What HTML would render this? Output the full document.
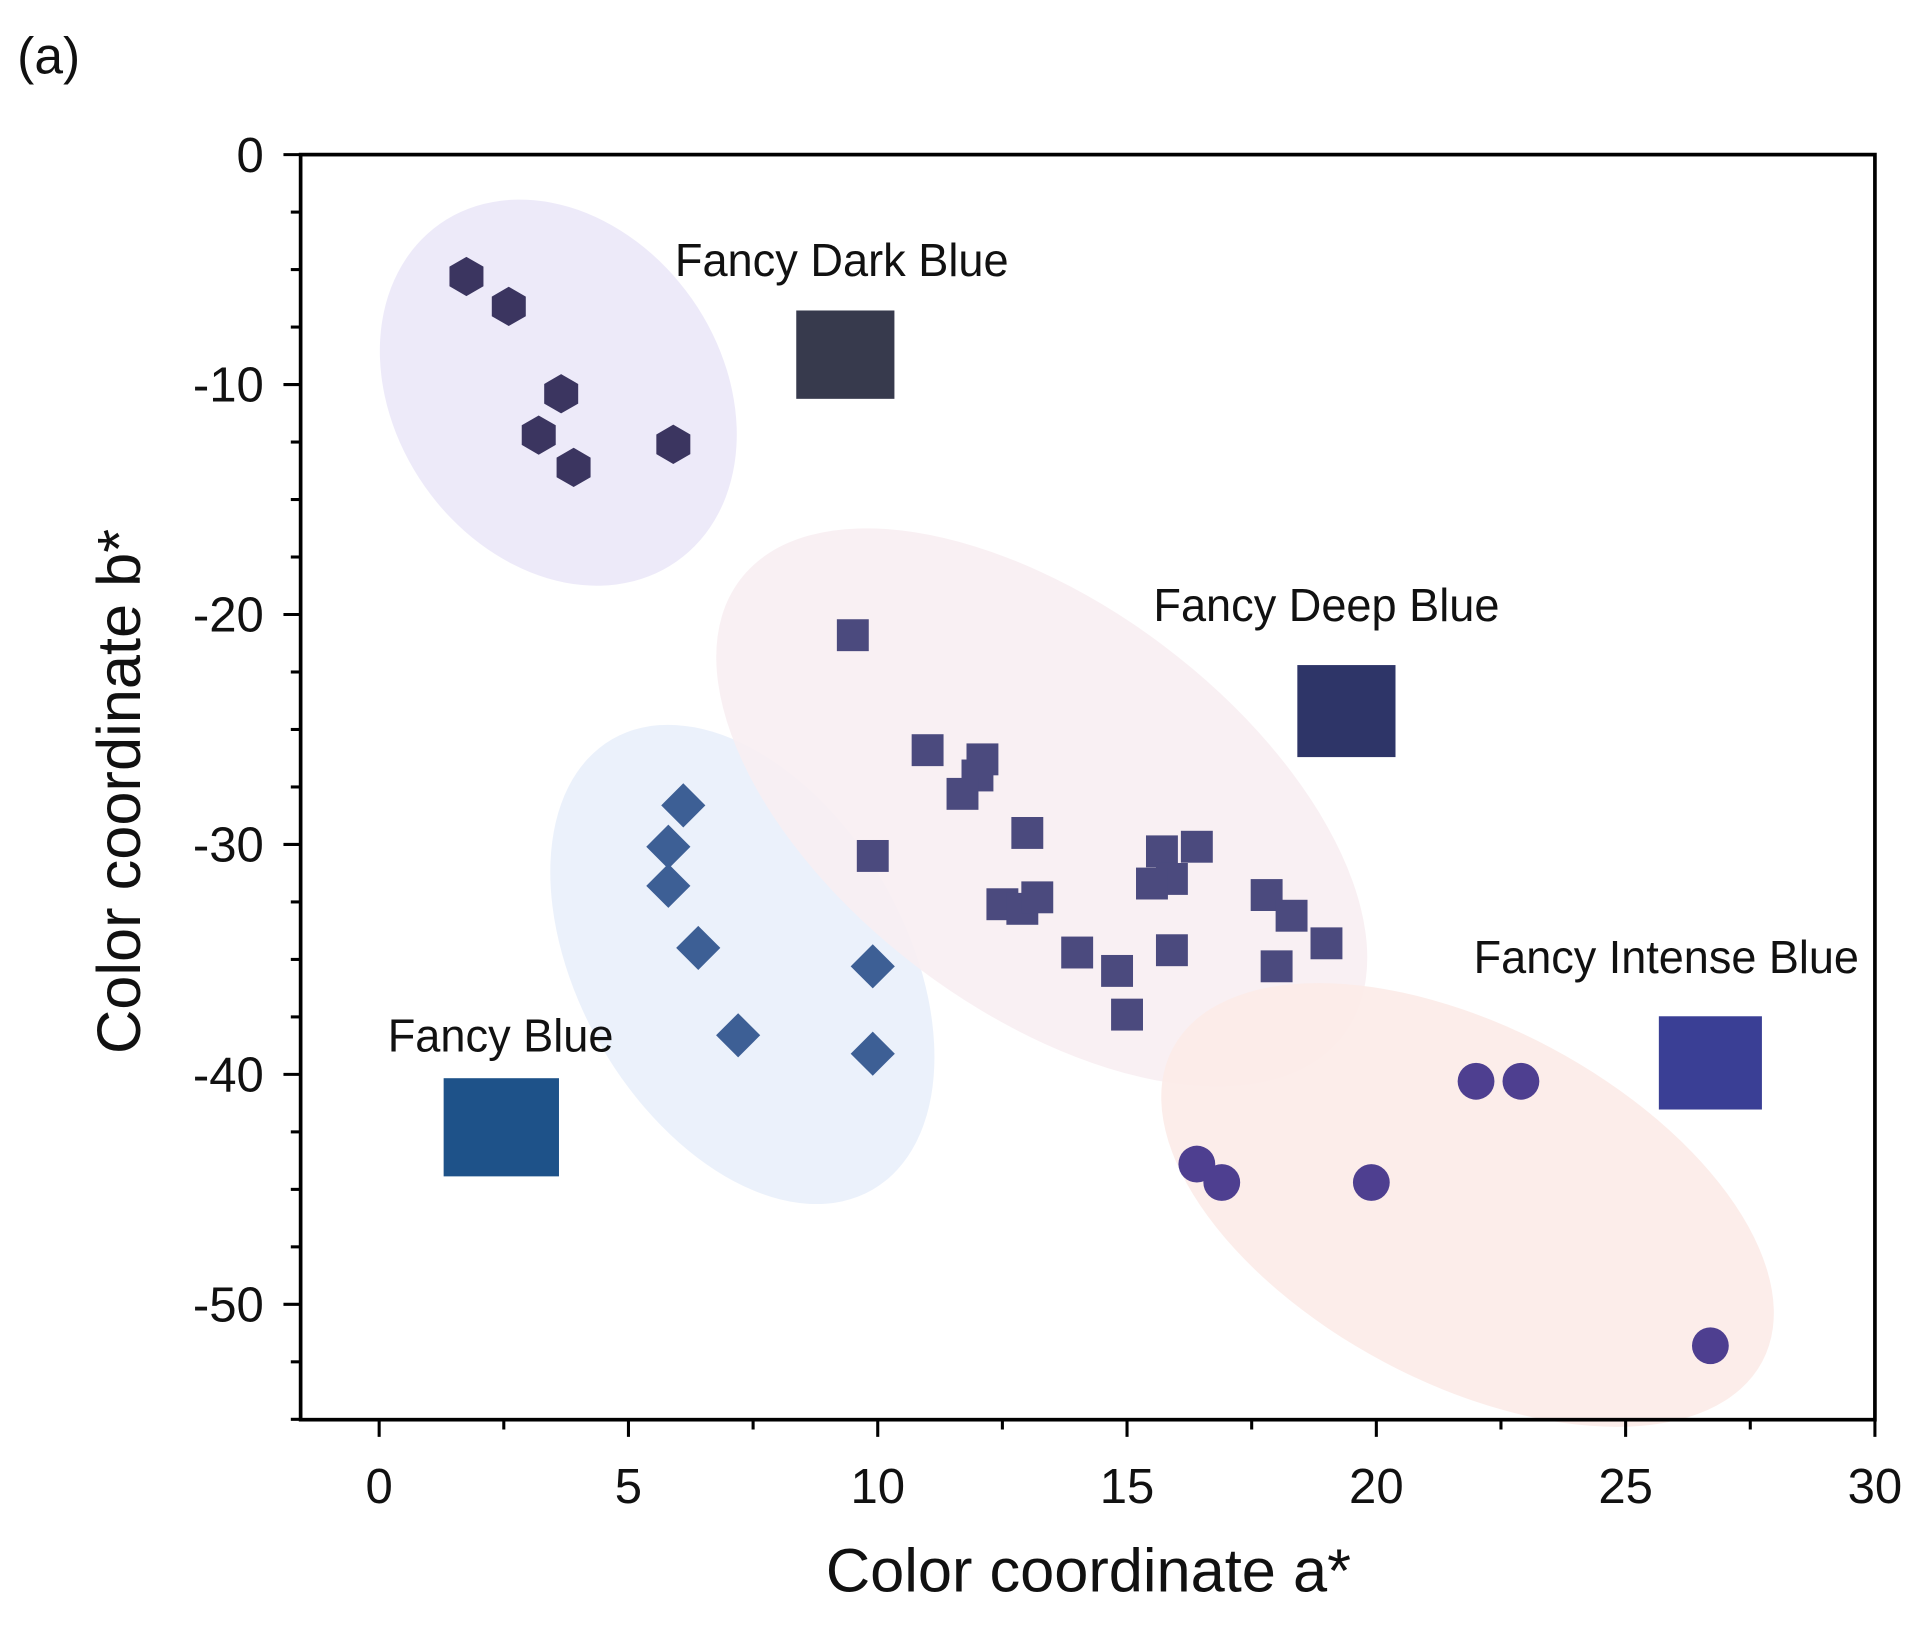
<!DOCTYPE html>
<html><head><meta charset="utf-8"><style>html,body{margin:0;padding:0;background:#fff}svg{display:block}text{font-family:"Liberation Sans",sans-serif;fill:#111}</style></head>
<body>
<svg id="chart" width="1924" height="1630" viewBox="0 0 1568 1328.4" xmlns="http://www.w3.org/2000/svg">
<text x="14" y="60" font-size="42">(a)</text>
<g id="ellipses"></g>
<g id="marks"></g>
<g id="axes"></g>
</svg>
<script>
const xTicks=[0,5,10,15,20,25,30];
const yTicks=[0,-10,-20,-30,-40,-50];
const hexX=[1.75,2.6,3.65,3.2,3.9,5.9];
const hexY=[-5.3,-6.6,-10.4,-12.2,-13.6,-12.6];
const sqX=[9.5,11,12.1,12,11.7,13,9.9,15.7,16.4,15.9,15.5,12.5,12.9,13.2,17.8,18.3,19,14,15.9,14.8,18,15];
const sqY=[-20.9,-25.9,-26.3,-27,-27.8,-29.5,-30.5,-30.3,-30.1,-31.5,-31.7,-32.6,-32.8,-32.3,-32.2,-33.1,-34.3,-34.7,-34.6,-35.5,-35.3,-37.4];
const diaX=[6.1,5.8,5.8,6.4,9.9,7.2,9.9];
const diaY=[-28.3,-30.1,-31.8,-34.5,-35.3,-38.3,-39.1];
const cirX=[22,22.9,16.4,16.9,19.9,26.7];
const cirY=[-40.3,-40.3,-43.9,-44.7,-44.7,-51.8];
const refNames=["Fancy Dark Blue","Fancy Deep Blue","Fancy Intense Blue","Fancy Blue"];
const refX=[9.35,19.4,26.7,2.45];
const refY=[-8.7,-24.2,-39.5,-42.3];

const L=245,R=1528,T=126,B=1157;
const sx=v=>309+v*(1528-309)/30;
const sy=v=>126-v*(1063-126)/50;
const NS="http://www.w3.org/2000/svg";
function mk(tag,attrs,parent){const e=document.createElementNS(NS,tag);for(const k in attrs)e.setAttribute(k,attrs[k]);parent.appendChild(e);return e;}
const eg=document.getElementById('ellipses'),mg=document.getElementById('marks'),ag=document.getElementById('axes');

const ells=[[455,320,168,133,55,'#ebe8f8','ellipse-dark-blue'],[605,786,212,133,60,'#e9f0fb','ellipse-blue'],[849,658,308,165,37,'#f8eef2','ellipse-deep-blue'],[1196,982,272,145,28,'#fcebe8','ellipse-intense-blue']];
ells.forEach(e=>{const el=mk('ellipse',{cx:e[0],cy:e[1],rx:e[2],ry:e[3],transform:`rotate(${e[4]} ${e[0]} ${e[1]})`,fill:e[5],'fill-opacity':0.9},eg);

});

hexX.forEach((x,i)=>{const cx=sx(x),cy=sy(hexY[i]),r=16;let p=[];for(let k=0;k<6;k++){const a=Math.PI/3*k+Math.PI/6;p.push((cx+r*Math.cos(a)).toFixed(1)+','+(cy+r*Math.sin(a)).toFixed(1));}
const el=mk('polygon',{points:p.join(' '),fill:'#3b3560'},mg);

});
sqX.forEach((x,i)=>{const el=mk('rect',{x:sx(x)-13,y:sy(sqY[i])-13,width:26,height:26,fill:'#4b4a7e'},mg);

});
diaX.forEach((x,i)=>{const cx=sx(x),cy=sy(diaY[i]),r=18;const el=mk('polygon',{points:`${cx},${cy-r} ${cx+r},${cy} ${cx},${cy+r} ${cx-r},${cy}`,fill:'#3d5f95'},mg);

});
cirX.forEach((x,i)=>{const el=mk('circle',{cx:sx(x),cy:sy(cirY[i]),r:15,fill:'#4e3f90'},mg);

});

const refCol=['#373a4d','#2e3568','#3a3f95','#1e5289'];
const refSz=[[80,72],[80,75],[84,76],[94,80]];
const lab=[[550,225,272],[940,506,282],[1201,793,314],[316,857,184]];
refX.forEach((x,i)=>{const w=refSz[i][0],h=refSz[i][1];
const el=mk('rect',{x:sx(x)-w/2,y:sy(refY[i])-h/2,width:w,height:h,fill:refCol[i]},mg);


const t=mk('text',{x:lab[i][0],y:lab[i][1],'font-size':38,textLength:lab[i][2],lengthAdjust:'spacingAndGlyphs'},mg);t.textContent=refNames[i];

});

const box=mk('rect',{x:L,y:T,width:R-L,height:B-T,fill:'none',stroke:'#000','stroke-width':3},ag);


for(let v=0;v>=-55;v-=2.5){const y=sy(v),maj=v%10===0;mk('line',{x1:L-(maj?14:8),x2:L,y1:y,y2:y,stroke:'#000','stroke-width':2.5},ag);}
yTicks.forEach(v=>{const t=mk('text',{x:L-30,y:sy(v)+14,'font-size':40,'text-anchor':'end'},ag);t.textContent=v;

});
for(let v=0;v<=30;v+=2.5){const x=sx(v),maj=v%5===0;mk('line',{x1:x,x2:x,y1:B,y2:B+(maj?14:8),stroke:'#000','stroke-width':2.5},ag);}
xTicks.forEach(v=>{const t=mk('text',{x:sx(v),y:1225,'font-size':40,'text-anchor':'middle'},ag);t.textContent=v;

});
const xt=mk('text',{x:887,y:1297,'font-size':50,'text-anchor':'middle'},ag);xt.textContent='Color coordinate a*';


const yt=mk('text',{x:0,y:0,'font-size':50,'text-anchor':'middle',transform:'translate(114 645) rotate(-90)'},ag);yt.textContent='Color coordinate b*';


</script>
</body></html>
